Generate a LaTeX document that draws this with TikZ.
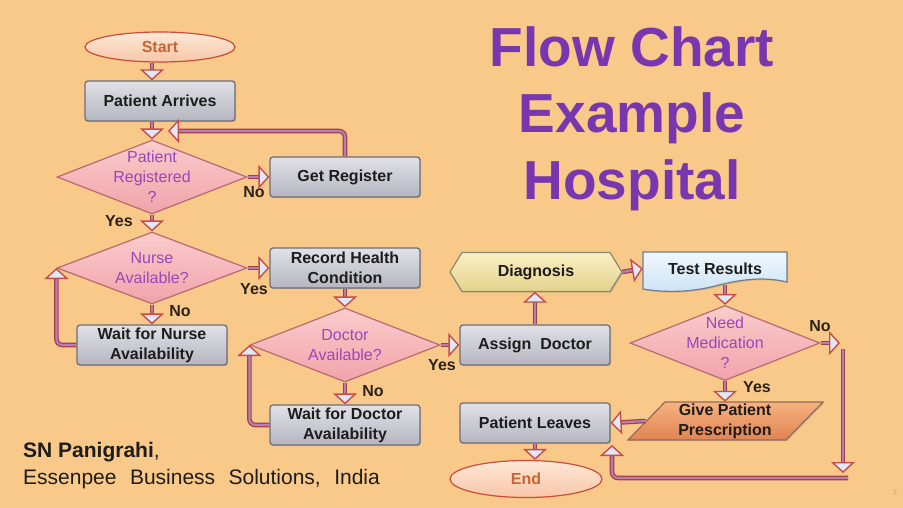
\documentclass[tikz,border=0pt]{standalone}
\usepackage{fontspec}
\setmainfont{Liberation Sans}
\newfontfamily\authfont{Liberation Sans}[WordSpace=2.3]
\usetikzlibrary{shapes.geometric,arrows.meta,shadows}
\definecolor{bg}{RGB}{249,201,138}
\definecolor{boxtop}{RGB}{224,224,230}
\definecolor{boxbot}{RGB}{182,182,192}
\definecolor{boxline}{RGB}{110,110,122}
\definecolor{diatop}{RGB}{251,204,204}
\definecolor{diabot}{RGB}{240,163,170}
\definecolor{dialine}{RGB}{185,105,112}
\definecolor{diatext}{RGB}{155,70,185}
\definecolor{elltop}{RGB}{253,232,214}
\definecolor{ellbot}{RGB}{247,198,168}
\definecolor{ellline}{RGB}{205,75,60}
\definecolor{elltext}{RGB}{200,100,50}
\definecolor{pipeout}{RGB}{165,60,70}
\definecolor{pipein}{RGB}{178,128,178}
\definecolor{tipfill}{RGB}{222,232,246}
\definecolor{tipline}{RGB}{205,75,70}
\definecolor{titlec}{RGB}{120,55,175}
\definecolor{txt}{RGB}{30,28,28}
\definecolor{labc}{RGB}{45,35,25}
\definecolor{diagtop}{RGB}{249,240,195}
\definecolor{diagbot}{RGB}{228,210,140}
\definecolor{diagline}{RGB}{140,135,110}
\definecolor{testtop}{RGB}{240,247,253}
\definecolor{testbot}{RGB}{203,227,246}
\definecolor{testline}{RGB}{115,125,140}
\definecolor{prestop}{RGB}{246,178,128}
\definecolor{presbot}{RGB}{224,132,82}
\definecolor{presline}{RGB}{150,105,85}
\definecolor{pagec}{RGB}{195,155,115}
\begin{document}
\begin{tikzpicture}[x=1pt,y=-1pt,
  proc/.style={rectangle, rounded corners=3pt, minimum width=150pt, minimum height=40pt,
    inner sep=2pt, top color=boxtop, bottom color=boxbot, draw=boxline, line width=1.3pt,
    align=center, text=txt, font=\bfseries\fontsize{16}{20}\selectfont,
    drop shadow={opacity=0.3, shadow xshift=1.2pt, shadow yshift=-1.2pt}},
  dia/.style={diamond, minimum width=190pt, minimum height=74pt, inner sep=0pt,
    top color=diatop, bottom color=diabot, draw=dialine, line width=1.2pt},
  dtext/.style={align=center, text=diatext, font=\fontsize{16}{20}\selectfont, inner sep=0pt},
  term/.style={ellipse, minimum width=150pt, minimum height=30pt, inner sep=1pt,
    top color=elltop, bottom color=ellbot, draw=ellline, line width=1.2pt,
    text=elltext, font=\bfseries\fontsize{16}{20}\selectfont},
  plain/.style={align=center, text=txt, font=\bfseries\fontsize{16}{20}\selectfont, inner sep=0pt},
  pipe/.style={draw=pipein, line width=2.2pt, rounded corners=6pt,
    -{Triangle[length=11pt,width=24pt,fill=tipfill,color=tipline,line width=1.4pt]},
    preaction={draw=pipeout, line width=4.6pt, arrows=-, shorten >=10pt}},
  lab/.style={text=labc, font=\bfseries\fontsize{16}{18}\selectfont, inner sep=0pt},
  titl/.style={anchor=base, text=titlec, font=\bfseries\fontsize{55}{66}\selectfont, inner sep=0pt}
]
\useasboundingbox[fill=bg] (0,0) rectangle (903,508);

% title
\node[titl] (t1) at (632,67) {Flow Chart};
\node[titl] (t2) at (632,133) {Example};
\node[titl] (t3) at (632,200) {Hospital};

% terminals
\node[term] (start) at (160,47) {Start};
\node[term, minimum width=152pt, minimum height=37pt] (end) at (526,479) {End};

% process boxes
\node[proc] (arrives) at (160,101) {Patient Arrives};
\node[proc] (getreg) at (345,177) {Get Register};
\node[proc] (record) at (345,268) {Record Health\\Condition};
\node[proc] (waitN) at (152,345) {Wait for Nurse\\Availability};
\node[proc] (waitD) at (345,425) {Wait for Doctor\\Availability};
\node[proc] (assign) at (535,345) {Assign\ \ Doctor};
\node[proc] (leaves) at (535,423) {Patient Leaves};

% decisions
\node[dia, label={[dtext]center:{Patient\\Registered\\?}}] (reg) at (152,177) {};
\node[dia, minimum height=72pt, label={[dtext]center:{Nurse\\Available?}}] (nurse) at (152,268) {};
\node[dia, label={[dtext]center:{Doctor\\Available?}}] (doctor) at (345,345) {};
\node[dia, minimum height=75pt, label={[dtext]center:{Need\\Medication\\?}}] (need) at (725,343) {};

% diagnosis (hexagon-like)
\path[top color=diagtop, bottom color=diagbot, draw=diagline, line width=1.2pt,
  drop shadow={opacity=0.3, shadow xshift=1.2pt, shadow yshift=-1.2pt}]
  (450,272) -- (462,252.5) -- (610,252.5) -- (622,272) -- (610,291.5) -- (462,291.5) -- cycle;
\node[plain, minimum width=172pt, minimum height=39pt] (diag) at (536,272) {Diagnosis};

% test results (document shape)
\path[top color=testtop, bottom color=testbot, draw=testline, line width=1.2pt,
  drop shadow={opacity=0.3, shadow xshift=1.2pt, shadow yshift=-1.2pt}]
  (643,252) -- (787,252) -- (787,282)
  .. controls (762,276) and (738,280) .. (715,286)
  .. controls (692,292) and (666,293) .. (643,289) -- cycle;
\node[plain, minimum width=144pt, minimum height=33pt] (test) at (715,268.5) {Test Results};

% prescription (parallelogram)
\path[top color=prestop, bottom color=presbot, draw=presline, line width=1.2pt,
  drop shadow={opacity=0.3, shadow xshift=1.2pt, shadow yshift=-1.2pt}]
  (665,402) -- (823,402) -- (786,440) -- (628,440) -- cycle;
\node[plain, minimum width=158pt, minimum height=38pt] (presc) at (725,421) {Give Patient\\Prescription};

% coordinates for free ends
\coordinate (regin) at (168,131);
\coordinate (needR) at (840,343);
\coordinate (vtop) at (843,349);
\coordinate (vbot) at (843,473);
\coordinate (hstart) at (848,478);
\coordinate (leavesBR) at (612,445);

% connectors
\draw[pipe] (start.south -| reg.north) -- (arrives.north -| reg.north);
\draw[pipe] (arrives.south -| reg.north) -- (reg.north);
\draw[pipe] (reg.east) -- (getreg.west);
\draw[pipe] (getreg.north) |- (regin);
\draw[pipe] (reg.south) -- (nurse.north);
\draw[pipe] (nurse.east) -- (record.west);
\draw[pipe] (nurse.south) -- (waitN.north);
\draw[pipe] (waitN.west) -| (nurse.west);
\draw[pipe] (record.south) -- (doctor.north);
\draw[pipe] (doctor.east) -- (assign.west);
\draw[pipe] (doctor.south) -- (waitD.north);
\draw[pipe] (waitD.west) -| (doctor.west);
\draw[pipe] (assign.north) -- (assign.north |- diag.south);
\draw[pipe] (diag.east) -- (test.west);
\draw[pipe] (test.south -| need.north) -- (need.north);
\draw[pipe] (need.east) -- (needR);
\draw[pipe] (vtop) -- (vbot);
\draw[pipe] (hstart) -| (leavesBR);
\draw[pipe] (need.south) -- (presc.north);
\draw[pipe] (presc.west) -- (leaves.east);
\draw[pipe] (leaves.south) -- (leaves.south |- end.north);

% labels
\node[lab] (l1) at (119,221) {Yes};
\node[lab] (l2) at (254,192) {No};
\node[lab] (l3) at (254,289) {Yes};
\node[lab] (l4) at (180,311) {No};
\node[lab] (l5) at (442,365) {Yes};
\node[lab] (l6) at (373,391) {No};
\node[lab] (l7) at (757,387) {Yes};
\node[lab] (l8) at (820,326) {No};

% author
\node[anchor=base west, inner sep=0pt, text=txt, font=\bfseries\fontsize{21}{24}\selectfont] (auth1) at (23,457) {SN Panigrahi\mdseries,};
\node[anchor=base west, inner sep=0pt, text=txt, font=\authfont\fontsize{21}{24}\selectfont] (auth2) at (23,484) {Essenpee Business Solutions, India};

\node[text=pagec, inner sep=0pt, font=\fontsize{7}{8}\selectfont] (pg) at (895,493) {7};
\end{tikzpicture}
\end{document}
